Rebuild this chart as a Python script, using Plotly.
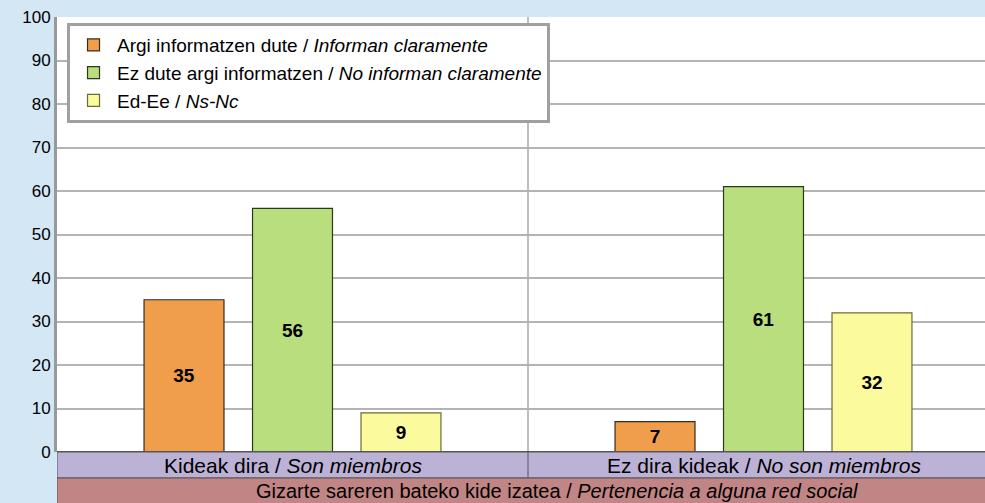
import plotly.graph_objects as go

categories = ["Kideak dira / <i>Son miembros</i>", "Ez dira kideak / <i>No son miembros</i>"]
series_names = [
    "Argi informatzen dute / <i>Informan claramente</i>",
    "Ez dute argi informatzen / <i>No informan claramente</i>",
    "Ed-Ee / <i>Ns-Nc</i>",
]
informan = [35, 7]
no_informan = [56, 61]
nsnc = [9, 32]
group_title = "Gizarte sareren bateko kide izatea / <i>Pertenencia a alguna red social</i>"
y_ticks = list(range(0, 101, 10))

FONT = "Liberation Sans, Arial"
colors = ["#f09e4b", "#b9de7e", "#fbfb9d"]
line_colors = ["#3a2a1a", "#2a3a1a", "#6b6b3a"]

fig = go.Figure()
for name, vals, c, lc in zip(series_names, [informan, no_informan, nsnc], colors, line_colors):
    fig.add_trace(go.Bar(
        x=categories, y=vals, name=name,
        marker=dict(color=c, line=dict(color=lc, width=1.2)),
        text=[f"<b>{v}</b>" for v in vals], textposition="inside",
        insidetextanchor="middle", textangle=0,
        textfont=dict(family=FONT, size=19, color="black"),
    ))

x_right = 1.5 - 14 / 471

# category bands
band = 26 / 435
fig.add_shape(type="rect", xref="x", yref="paper", x0=-0.5, x1=1.5, y0=-band, y1=0,
              fillcolor="#bcb2d6", line=dict(color="#555555", width=1), layer="below")
fig.add_shape(type="line", xref="x", yref="paper", x0=0.5, x1=0.5, y0=-band, y1=0,
              line=dict(color="#555555", width=1))
fig.add_shape(type="rect", xref="x", yref="paper", x0=-0.5, x1=1.5, y0=-0.2, y1=-band,
              fillcolor="#c08584", line=dict(color="#555555", width=1), layer="below")
for i, cat in enumerate(categories):
    fig.add_annotation(x=i, y=-band / 2, xref="x", yref="paper", text=cat, showarrow=False,
                       font=dict(family=FONT, size=21, color="black"),
                       yanchor="middle")
fig.add_annotation(x=-0.5 + (557 - 57) / 471, y=-(band + 25 / 435 / 2), xref="x", yref="paper",
                   text=group_title, showarrow=False, yanchor="middle",
                   font=dict(family=FONT, size=20, color="black"))

# separator between categories
fig.add_shape(type="line", xref="x", yref="paper", x0=0.5, x1=0.5, y0=0, y1=1,
              line=dict(color="#a8a8a8", width=1.5), layer="below")

fig.update_layout(
    width=985, height=503,
    margin=dict(l=57, r=0, t=17, b=51),
    paper_bgcolor="#d4e7f5",
    plot_bgcolor="white",
    barmode="group", bargap=0.309, bargroupgap=0.263,
    font=dict(family=FONT, size=17, color="black"),
    legend=dict(
        x=0.0108, y=0.986, xanchor="left", yanchor="top",
        bgcolor="white", bordercolor="#a0a0a0", borderwidth=3,
        font=dict(family=FONT, size=19), itemwidth=37,
    ),
    xaxis=dict(range=[-0.5, x_right], showticklabels=False, showgrid=False,
               showline=False, zeroline=False, fixedrange=True),
    yaxis=dict(range=[0, 100], tickvals=y_ticks, showgrid=True, gridcolor="#b4b4b4", gridwidth=2,
               showline=True, linecolor="#999999", linewidth=3, zeroline=False,
               ticks="outside", ticklen=0, tickfont=dict(family=FONT, size=17, color="black")),
)
fig.add_shape(type="line", xref="paper", yref="y", x0=0, x1=1, y0=0, y1=0,
              line=dict(color="#555555", width=2))

fig.write_html("out.html", config={"displayModeBar": False},
               post_script="document.body.style.margin='0';document.body.style.overflow='hidden';")
